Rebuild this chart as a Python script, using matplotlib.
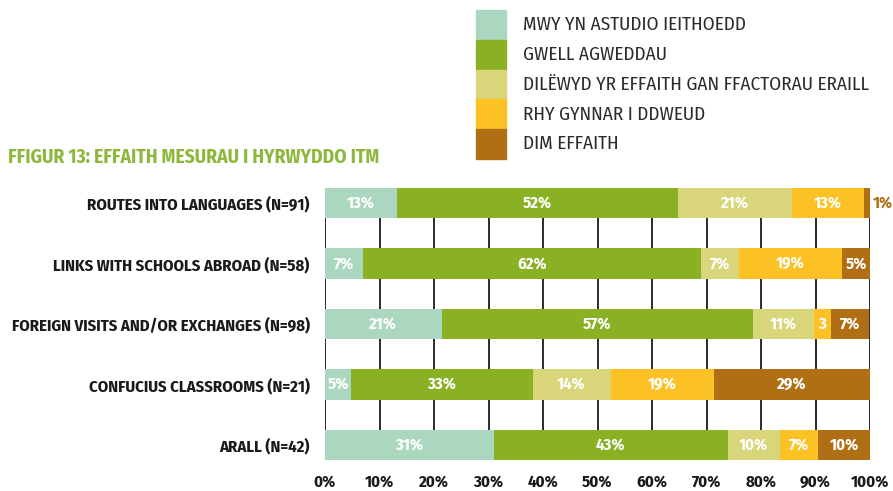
import matplotlib
matplotlib.use("Agg")
import matplotlib.pyplot as plt
from matplotlib.patches import Rectangle

plt.rcParams['font.family'] = ['Fira Sans Condensed', 'PT Sans Narrow',
                               'Asap Condensed', 'DejaVu Sans']

categories = [
    "ROUTES INTO LANGUAGES (N=91)",
    "LINKS WITH SCHOOLS ABROAD (N=58)",
    "FOREIGN VISITS AND/OR EXCHANGES (N=98)",
    "CONFUCIUS CLASSROOMS (N=21)",
    "ARALL (N=42)",
]
series_names = [
    "MWY YN ASTUDIO IEITHOEDD",
    "GWELL AGWEDDAU",
    "DILËWYD YR EFFAITH GAN FFACTORAU ERAILL",
    "RHY GYNNAR I DDWEUD",
    "DIM EFFAITH",
]
mwy = [13.2, 6.9, 21.4, 4.8, 31.0]
gwell = [51.6, 62.1, 57.1, 33.3, 42.9]
dileu = [20.9, 6.9, 11.2, 14.3, 9.5]
rhy = [13.2, 19.0, 3.1, 19.0, 7.1]
dim = [1.1, 5.2, 7.1, 28.6, 9.5]
series = [mwy, gwell, dileu, rhy, dim]
colors = ["#ABD7C0", "#8AB124", "#D8D57A", "#FCC125", "#B06F14"]
xticks = [0, 10, 20, 30, 40, 50, 60, 70, 80, 90, 100]
xticklabels = [f"{t}%" for t in xticks]
title = "FFIGUR 13: EFFAITH MESURAU I HYRWYDDO ITM"

W, H = 893, 491
fig = plt.figure(figsize=(W / 100, H / 100), dpi=100)
ax = fig.add_axes([325 / W, 1 - 460 / H, (870 - 325) / W, (460 - 188) / H])

bar_h = 0.5
lab_fs = 12
ypos = list(range(len(categories)))
left = [0.0] * len(categories)
for s, vals in enumerate(series):
    ax.barh(ypos, vals, left=left, height=bar_h, color=colors[s], zorder=3,
            edgecolor='none')
    for i, v in enumerate(vals):
        cx = left[i] + v / 2
        if v < 2:
            ax.text(left[i] + v + 0.6, i, f"{round(v)}%", ha='left', va='center',
                    color=colors[s], fontsize=lab_fs, fontweight='bold', zorder=4)
        elif v < 4:
            ax.text(cx, i, f"{round(v)}", ha='center', va='center',
                    color='white', fontsize=lab_fs, fontweight='bold', zorder=4)
        else:
            ax.text(cx, i, f"{round(v)}%", ha='center', va='center',
                    color='white', fontsize=lab_fs, fontweight='bold', zorder=4)
    left = [l + v for l, v in zip(left, vals)]

ax.set_xlim(0, 100)
ax.set_ylim(len(categories) - 1 + bar_h / 2, -bar_h / 2)
for t in xticks:
    ax.axvline(t, color='#1a1a1a', lw=1.3, zorder=1)
ax.set_xticks(xticks)
ax.set_xticklabels(xticklabels, fontsize=12, fontweight='bold', color='#1a1a1a')
ax.set_yticks(ypos)
ax.set_yticklabels(categories, fontsize=12, fontweight='bold', color='#1a1a1a')
ax.tick_params(axis='x', length=0, pad=10)
ax.tick_params(axis='y', length=0, pad=11)
for sp in ax.spines.values():
    sp.set_visible(False)
ax.patch.set_alpha(0)

fig.text(8 / W, 1 - 157 / H, title, ha='left', va='center', color='#8DB83B',
         fontsize=14, fontweight='bold')

# legend
lx0, lx1 = 476, 506
ly_top = 10
row_h = 29.8
for s, name in enumerate(series_names):
    y0 = ly_top + s * row_h
    fig.patches.append(Rectangle((lx0 / W, 1 - (y0 + row_h) / H), (lx1 - lx0) / W,
                                 row_h / H, transform=fig.transFigure,
                                 color=colors[s], zorder=2))
    fig.text(523 / W, 1 - (y0 + row_h / 2) / H, name, ha='left', va='center',
             color='#2b2b2b', fontsize=13.8)

fig.savefig("out.png", dpi=100)
